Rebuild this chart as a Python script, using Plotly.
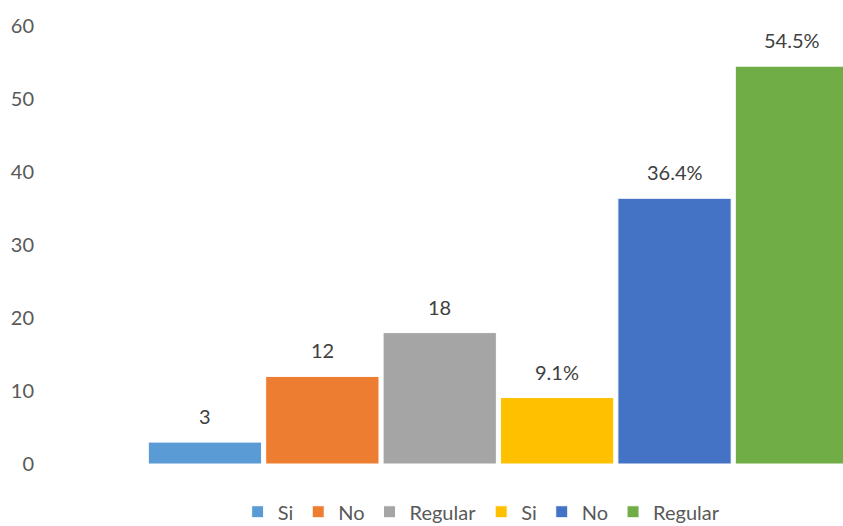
import plotly.graph_objects as go

series_names = ["Si", "No", "Regular", "Si", "No", "Regular"]
values = [3, 12, 18, 9.1, 36.4, 54.5]
labels = ["3", "12", "18", "9.1%", "36.4%", "54.5%"]
colors = ["#5B9BD5", "#ED7D31", "#A5A5A5", "#FFC000", "#4472C4", "#70AD47"]
y_ticks = [0, 10, 20, 30, 40, 50, 60]

fig = go.Figure()
for i, (name, v, c) in enumerate(zip(series_names, values, colors)):
    fig.add_trace(go.Bar(
        x=[i], y=[v], name=name, width=0.965,
        marker=dict(color=c, line=dict(color="white", width=1)),
        showlegend=True,
    ))

for i, (v, t) in enumerate(zip(values, labels)):
    fig.add_annotation(x=i, y=v, text=t, showarrow=False, yanchor="bottom",
                       yshift=12, font=dict(size=20, color="#404040"))

fig.update_layout(
    width=843, height=526,
    margin=dict(l=40, r=0, t=26, b=62, autoexpand=False),
    plot_bgcolor="white", paper_bgcolor="white",
    font=dict(family="Lato, Calibri, sans-serif", size=20, color="#595959"),
    barmode="overlay",
    xaxis=dict(range=[-1.405, 5.435], showticklabels=False, showgrid=False,
               zeroline=False, showline=False, fixedrange=True, automargin=False),
    yaxis=dict(range=[0, 60], tickvals=y_ticks, showgrid=False, zeroline=False,
               showline=False, ticks="", tickfont=dict(size=20, color="#595959"),
               ticklabelstandoff=5, automargin=False),
    legend=dict(orientation="h", x=0.55, xanchor="center", y=-0.109, yanchor="middle",
                font=dict(size=20, color="#595959"),
                traceorder="normal", tracegroupgap=0),
    showlegend=True,
)

fig.write_html("out.html", config={"displayModeBar": False},
               post_script="document.body.style.margin='0';document.body.style.overflow='hidden';")
